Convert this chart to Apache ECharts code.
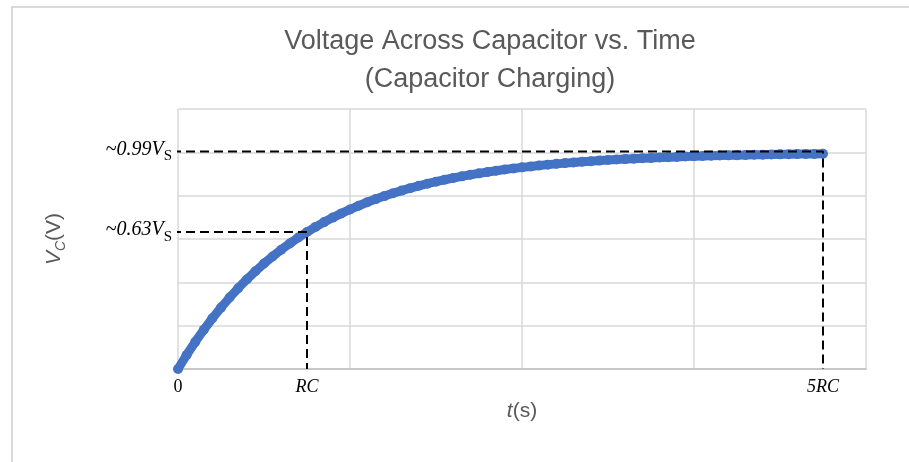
<!DOCTYPE html>
<html>
<head>
<meta charset="utf-8">
<script src="https://cdn.jsdelivr.net/npm/echarts@6/dist/echarts.min.js"></script>
<style>
html,body{margin:0;padding:0;background:#fff;}
#frame{position:absolute;left:11px;top:6px;width:1000px;height:600px;border-left:2px solid #d9d9d9;border-top:2px solid #d9d9d9;box-sizing:border-box;}
#chart{position:absolute;left:0;top:0;width:909px;height:462px;}
</style>
</head>
<body>
<div id="frame"></div>
<div id="chart"></div>
<script>
// time (s), sampled every 0.05 s from 0 to 5RC (RC = 0.75 s)
const timeValues = [0,0.05,0.1,0.15,0.2,0.25,0.3,0.35,0.4,0.45,0.5,0.55,0.6,0.65,0.7,0.75,0.8,0.85,0.9,0.95,1,1.05,1.1,1.15,1.2,1.25,1.3,1.35,1.4,1.45,1.5,1.55,1.6,1.65,1.7,1.75,1.8,1.85,1.9,1.95,2,2.05,2.1,2.15,2.2,2.25,2.3,2.35,2.4,2.45,2.5,2.55,2.6,2.65,2.7,2.75,2.8,2.85,2.9,2.95,3,3.05,3.1,3.15,3.2,3.25,3.3,3.35,3.4,3.45,3.5,3.55,3.6,3.65,3.7,3.75];
// capacitor voltage (V)
const voltageValues = [0,0.323,0.624,0.906,1.170,1.417,1.648,1.865,2.067,2.256,2.433,2.598,2.753,2.898,3.034,3.161,3.279,3.390,3.494,3.591,3.682,3.767,3.847,3.921,3.990,4.056,4.117,4.174,4.227,4.277,4.323,4.367,4.408,4.446,4.482,4.515,4.546,4.576,4.603,4.629,4.653,4.675,4.696,4.716,4.734,4.751,4.767,4.782,4.796,4.809,4.822,4.833,4.844,4.854,4.863,4.872,4.880,4.888,4.895,4.902,4.908,4.914,4.920,4.925,4.930,4.934,4.939,4.943,4.946,4.950,4.953,4.956,4.959,4.962,4.964,4.966];
// reference guide lines (t, V)
const guide63 = [[-0.035,3.16],[0.75,3.16],[0.75,0]];
const guide99 = [[-0.035,5.02],[3.75,5.02],[3.75,0]];
// tick labels
const xTickValues = [0, 0.75, 3.75];
const xTickLabels = ['0', 'RC', '5RC'];
const yTickValues = [3.16, 5.02];
const yTickLabels = ['~0.63V', '~0.99V'];

const points = timeValues.map((t, i) => [t, voltageValues[i]]);
const chart = echarts.init(document.getElementById('chart'), null, {renderer: 'canvas'});
const sans = 'Liberation Sans';
const serif = 'Liberation Serif';
chart.setOption({
  animation: false,
  backgroundColor: 'transparent',
  title: {
    text: 'Voltage Across Capacitor vs. Time\n(Capacitor Charging)',
    left: 485, top: 18, textAlign: 'center',
    textStyle: {fontFamily: sans, fontSize: 27, fontWeight: 'normal', color: '#595959', lineHeight: 38}
  },
  grid: {left: 178, right: 43, top: 109, bottom: 93, containLabel: false},
  xAxis: {
    type: 'value', min: 0, max: 4, interval: 1,
    name: '{i|t}{n|(s)}', nameLocation: 'middle', nameGap: 32,
    nameTextStyle: {rich: {
      i: {fontFamily: sans, fontStyle: 'italic', fontSize: 21, color: '#595959'},
      n: {fontFamily: sans, fontSize: 21, color: '#595959'}
    }},
    axisLine: {show: true, lineStyle: {color: '#bfbfbf', width: 1.5}},
    axisTick: {show: false},
    splitLine: {show: true, lineStyle: {color: '#d9d9d9', width: 1.5}},
    axisLabel: {
      customValues: xTickValues, margin: 9,
      formatter: v => {
        const s = xTickLabels[xTickValues.indexOf(v)];
        return s === '0' ? '{n|' + s + '}' : '{i|' + s + '}';
      },
      rich: {
        n: {fontFamily: serif, fontSize: 18, color: '#000'},
        i: {fontFamily: serif, fontStyle: 'italic', fontSize: 18, color: '#000'}
      }
    }
  },
  yAxis: {
    type: 'value', min: 0, max: 6, interval: 1,
    name: '{v|V}{c|C}{n|(V)}', nameLocation: 'middle', nameGap: 110, nameRotate: 90,
    nameTextStyle: {rich: {
      v: {fontFamily: sans, fontStyle: 'italic', fontSize: 21, color: '#595959', verticalAlign: 'bottom', padding: [0,0,3,0]},
      c: {fontFamily: sans, fontStyle: 'italic', fontSize: 14, color: '#595959', verticalAlign: 'bottom'},
      n: {fontFamily: sans, fontSize: 21, color: '#595959', verticalAlign: 'bottom', padding: [0,0,3,0]}
    }},
    axisLine: {show: false},
    axisTick: {show: false},
    splitLine: {show: true, lineStyle: {color: '#d9d9d9', width: 1.5}},
    axisLabel: {
      customValues: yTickValues, margin: 6,
      formatter: v => '{a|' + yTickLabels[yTickValues.indexOf(v)] + '}{s|S}',
      rich: {
        a: {fontFamily: serif, fontStyle: 'italic', fontSize: 20, color: '#000', verticalAlign: 'bottom', padding: [0,0,4,0]},
        s: {fontFamily: serif, fontSize: 15, color: '#000', verticalAlign: 'bottom'}
      }
    }
  },
  series: [
    {
      type: 'line', data: points, z: 2,
      symbol: 'circle', symbolSize: 10, showSymbol: true, showAllSymbol: true,
      itemStyle: {color: '#4472c4'},
      lineStyle: {color: '#4472c4', width: 9}
    },
    {
      type: 'line', data: guide63, z: 3, clip: false, symbol: 'none',
      lineStyle: {color: '#000', width: 2, type: [9, 5]}
    },
    {
      type: 'line', data: guide99, z: 3, clip: false, symbol: 'none',
      lineStyle: {color: '#000', width: 2, type: [9, 5]}
    }
  ]
});
</script>
</body>
</html>
